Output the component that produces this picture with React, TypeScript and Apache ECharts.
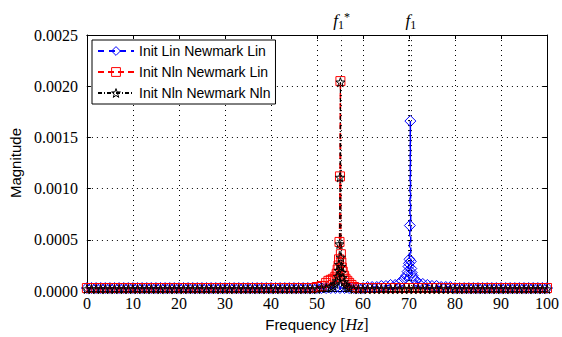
import React, { useEffect, useRef } from "react";
import * as echarts from "echarts";

// [frequency Hz, magnitude]
const blueSpectrum: [number, number][] = [
  [0, 3e-5], [1, 3e-5], [2, 3e-5], [3, 3e-5], [4, 3e-5], [5, 3e-5], [6, 3e-5], [7, 3e-5], [8, 3e-5], [9, 3e-5],
  [10, 3e-5], [11, 3e-5], [12, 3e-5], [13, 3e-5], [14, 3e-5], [15, 3e-5], [16, 3e-5], [17, 3e-5], [18, 3e-5], [19, 3e-5],
  [20, 3e-5], [21, 3e-5], [22, 3e-5], [23, 3e-5], [24, 3e-5], [25, 3e-5], [26, 3e-5], [27, 3e-5], [28, 3e-5], [29, 3e-5],
  [30, 3e-5], [31, 3e-5], [32, 3e-5], [33, 3e-5], [34, 3e-5], [35, 3e-5], [36, 3e-5], [37, 3e-5], [38, 3e-5], [39, 3e-5],
  [40, 3e-5], [41, 3e-5], [42, 3e-5], [43, 3e-5], [44, 3e-5], [45, 3e-5], [46, 3e-5], [47, 3e-5], [48, 3e-5], [49, 3e-5],
  [50, 3e-5], [51, 3e-5], [52, 3e-5], [53, 3e-5], [54, 3e-5], [55, 3e-5], [56, 3e-5], [57, 3e-5], [58, 3e-5], [59, 3e-5],
  [60, 3e-5], [61, 4e-5], [62, 4e-5], [63, 4e-5], [64, 5e-5], [65, 5e-5], [66, 6e-5], [67, 6e-5], [68, 8e-5],
  [68.5, 1.0e-4], [69, 1.2e-4], [69.4, 1.5e-4], [69.7, 1.9e-4], [69.9, 2.4e-4], [70, 2.7e-4], [70.1, 3.1e-4],
  [70.2, 6.4e-4], [70.3, 1.66e-3], [70.4, 2.9e-4], [70.5, 2.2e-4], [70.6, 1.8e-4], [70.8, 1.5e-4], [71.1, 1.2e-4],
  [71.5, 1.0e-4], [72, 8e-5], [73, 7e-5], [74, 6e-5], [75, 5e-5], [76, 5e-5], [77, 4e-5], [78, 4e-5], [79, 4e-5],
  [80, 3e-5], [81, 3e-5], [82, 3e-5], [83, 3e-5], [84, 3e-5], [85, 3e-5], [86, 3e-5], [87, 3e-5], [88, 3e-5], [89, 3e-5],
  [90, 3e-5], [91, 3e-5], [92, 3e-5], [93, 3e-5], [94, 3e-5], [95, 3e-5], [96, 3e-5], [97, 3e-5], [98, 3e-5], [99, 3e-5],
  [100, 3e-5],
];

const redSpectrum: [number, number][] = [
  [0, 3e-5], [1, 3e-5], [2, 3e-5], [3, 3e-5], [4, 3e-5], [5, 3e-5], [6, 3e-5], [7, 3e-5], [8, 3e-5], [9, 3e-5],
  [10, 3e-5], [11, 3e-5], [12, 3e-5], [13, 3e-5], [14, 3e-5], [15, 3e-5], [16, 3e-5], [17, 3e-5], [18, 3e-5], [19, 3e-5],
  [20, 3e-5], [21, 3e-5], [22, 3e-5], [23, 3e-5], [24, 3e-5], [25, 3e-5], [26, 3e-5], [27, 3e-5], [28, 3e-5], [29, 3e-5],
  [30, 3e-5], [31, 3e-5], [32, 3e-5], [33, 3e-5], [34, 3e-5], [35, 3e-5], [36, 3e-5], [37, 3e-5], [38, 3e-5], [39, 3e-5],
  [40, 3e-5], [41, 3e-5], [42, 3e-5], [43, 3e-5], [44, 3e-5], [45, 3e-5], [46, 3e-5], [47, 3e-5], [48, 3e-5], [49, 3e-5],
  [50, 4e-5], [51, 5e-5], [52, 8e-5], [52.5, 1.0e-4], [53, 1.1e-4], [53.5, 1.2e-4], [54, 1.4e-4], [54.3, 1.7e-4],
  [54.5, 2.1e-4], [54.7, 2.5e-4], [54.8, 3.1e-4], [54.9, 4.8e-4], [55, 1.12e-3], [55.1, 2.05e-3], [55.2, 3.6e-4],
  [55.3, 2.8e-4], [55.4, 2.3e-4], [55.6, 1.9e-4], [55.9, 1.5e-4], [56.2, 1.2e-4], [56.6, 1.0e-4], [57, 8e-5],
  [57.5, 6e-5], [58, 4e-5], [59, 3e-5],
  [60, 3e-5], [61, 3e-5], [62, 3e-5], [63, 3e-5], [64, 3e-5], [65, 3e-5], [66, 3e-5], [67, 3e-5], [68, 3e-5], [69, 3e-5],
  [70, 3e-5], [71, 3e-5], [72, 3e-5], [73, 3e-5], [74, 3e-5], [75, 3e-5], [76, 3e-5], [77, 3e-5], [78, 3e-5], [79, 3e-5],
  [80, 3e-5], [81, 3e-5], [82, 3e-5], [83, 3e-5], [84, 3e-5], [85, 3e-5], [86, 3e-5], [87, 3e-5], [88, 3e-5], [89, 3e-5],
  [90, 3e-5], [91, 3e-5], [92, 3e-5], [93, 3e-5], [94, 3e-5], [95, 3e-5], [96, 3e-5], [97, 3e-5], [98, 3e-5], [99, 3e-5],
  [100, 3e-5],
];

const blackSpectrum: [number, number][] = [
  [0, 2e-5], [1, 2e-5], [2, 2e-5], [3, 2e-5], [4, 2e-5], [5, 2e-5], [6, 2e-5], [7, 2e-5], [8, 2e-5], [9, 2e-5],
  [10, 2e-5], [11, 2e-5], [12, 2e-5], [13, 2e-5], [14, 2e-5], [15, 2e-5], [16, 2e-5], [17, 2e-5], [18, 2e-5], [19, 2e-5],
  [20, 2e-5], [21, 2e-5], [22, 2e-5], [23, 2e-5], [24, 2e-5], [25, 2e-5], [26, 2e-5], [27, 2e-5], [28, 2e-5], [29, 2e-5],
  [30, 2e-5], [31, 2e-5], [32, 2e-5], [33, 2e-5], [34, 2e-5], [35, 2e-5], [36, 2e-5], [37, 2e-5], [38, 2e-5], [39, 2e-5],
  [40, 2e-5], [41, 2e-5], [42, 2e-5], [43, 2e-5], [44, 2e-5], [45, 2e-5], [46, 2e-5], [47, 2e-5], [48, 2e-5], [49, 2e-5],
  [50, 2e-5], [51, 3e-5], [52, 3e-5], [53, 4e-5], [53.5, 5e-5], [54, 7e-5], [54.3, 1.0e-4], [54.5, 1.4e-4],
  [54.7, 2.0e-4], [54.8, 2.6e-4], [54.9, 4.6e-4], [55, 1.11e-3], [55.1, 2.04e-3], [55.2, 3.3e-4], [55.3, 2.4e-4],
  [55.4, 1.8e-4], [55.6, 1.3e-4], [55.9, 9e-5], [56.2, 6e-5], [56.6, 4e-5], [57, 3e-5], [58, 2e-5], [59, 2e-5],
  [60, 2e-5], [61, 2e-5], [62, 2e-5], [63, 2e-5], [64, 2e-5], [65, 2e-5], [66, 2e-5], [67, 2e-5], [68, 2e-5], [69, 2e-5],
  [70, 2e-5], [71, 2e-5], [72, 2e-5], [73, 2e-5], [74, 2e-5], [75, 2e-5], [76, 2e-5], [77, 2e-5], [78, 2e-5], [79, 2e-5],
  [80, 2e-5], [81, 2e-5], [82, 2e-5], [83, 2e-5], [84, 2e-5], [85, 2e-5], [86, 2e-5], [87, 2e-5], [88, 2e-5], [89, 2e-5],
  [90, 2e-5], [91, 2e-5], [92, 2e-5], [93, 2e-5], [94, 2e-5], [95, 2e-5], [96, 2e-5], [97, 2e-5], [98, 2e-5], [99, 2e-5],
  [100, 2e-5],
];

const seriesNames = ["Init Lin Newmark Lin", "Init Nln Newmark Lin", "Init Nln Newmark Nln"];
const fStarFreq = 55.35;
const f1Freqs = [69.95, 70.4];

const STAR = "path://M0,-10L2.35,-3.24L9.51,-3.09L3.8,1.24L5.88,8.09L0,4L-5.88,8.09L-3.8,1.24L-9.51,-3.09L-2.35,-3.24Z";

const serif = "Liberation Serif";
const sans = "Liberation Sans";

const fRich = {
  f: { fontFamily: serif, fontStyle: "italic" as const, fontSize: 17, color: "#000" },
  s: { fontFamily: serif, fontSize: 12, color: "#000", padding: [9, 0, 0, 0] },
  p: { fontFamily: serif, fontSize: 12, color: "#000", padding: [0, 0, 7, 0] },
};

export default function App() {
  const ref = useRef<HTMLDivElement>(null);
  useEffect(() => {
    const chart = echarts.init(ref.current!, null, { renderer: "svg" });
    const dotted = { color: "#000", width: 1, type: [1, 4] as number[] };
    const hollow = { color: "rgba(255,255,255,0)", borderWidth: 1 };
    const option: any = {
      animation: false,
      backgroundColor: "#fff",
      grid: { left: 85, right: 13, top: 35, bottom: 45, containLabel: false },
      legend: {
        left: 92,
        top: 40,
        orient: "vertical",
        itemWidth: 36,
        itemHeight: 11,
        itemGap: 7,
        padding: [4, 5, 4, 5],
        borderColor: "#000",
        borderWidth: 1,
        borderRadius: 0,
        backgroundColor: "#fff",
        textStyle: { fontFamily: sans, fontSize: 14, color: "#000" },
        data: [
          { name: seriesNames[0], itemStyle: { ...hollow, borderColor: "#0000ff" } },
          { name: seriesNames[1], itemStyle: { ...hollow, borderColor: "#ff0000" } },
          { name: seriesNames[2], itemStyle: { ...hollow, borderColor: "#000" } },
        ],
      },
      xAxis: [
        {
          type: "value",
          min: 0,
          max: 100,
          interval: 10,
          name: "{a|Frequency }{b|[}{c|Hz}{b|]}",
          nameLocation: "middle",
          nameGap: 24,
          nameTextStyle: {
            rich: {
              a: { fontFamily: sans, fontSize: 15, color: "#000" },
              b: { fontFamily: serif, fontSize: 16, color: "#000" },
              c: { fontFamily: serif, fontStyle: "italic", fontSize: 16, color: "#000" },
            },
          },
          axisLine: { show: true, onZero: false, lineStyle: { color: "#000", width: 1 } },
          axisTick: { show: true, inside: true, length: 4, lineStyle: { color: "#000" } },
          axisLabel: { fontFamily: serif, fontSize: 16, color: "#000", margin: 4 },
          splitLine: { show: true, lineStyle: dotted },
        },
        {
          type: "value",
          position: "top",
          min: 0,
          max: 100,
          interval: 10,
          axisLine: { show: true, onZero: false, lineStyle: { color: "#000", width: 1 } },
          axisTick: { show: true, inside: true, length: 4, lineStyle: { color: "#000" } },
          axisLabel: { show: false },
          splitLine: { show: false },
        },
      ],
      yAxis: [
        {
          type: "value",
          min: 0,
          max: 0.0025,
          interval: 0.0005,
          name: "Magnitude",
          nameLocation: "middle",
          nameGap: 58,
          nameTextStyle: { fontFamily: sans, fontSize: 15, color: "#000" },
          axisLine: { show: true, onZero: false, lineStyle: { color: "#000", width: 1 } },
          axisTick: { show: true, inside: true, length: 4, lineStyle: { color: "#000" } },
          axisLabel: {
            fontFamily: serif,
            fontSize: 16,
            color: "#000",
            margin: 9,
            formatter: (v: number) => v.toFixed(4),
          },
          splitLine: { show: true, lineStyle: dotted },
        },
        {
          type: "value",
          position: "right",
          min: 0,
          max: 0.0025,
          interval: 0.0005,
          axisLine: { show: true, onZero: false, lineStyle: { color: "#000", width: 1 } },
          axisTick: { show: true, inside: true, length: 4, lineStyle: { color: "#000" } },
          axisLabel: { show: false },
          splitLine: { show: false },
        },
      ],
      series: [
        {
          name: seriesNames[0],
          type: "line",
          data: blueSpectrum,
          symbol: "diamond",
          symbolSize: 11,
          showAllSymbol: true,
          color: "#0000ff",
          lineStyle: { color: "#0000ff", width: 1.5, type: [6, 5] },
          itemStyle: { ...hollow, borderColor: "#0000ff" },
          markLine: {
            silent: true,
            symbol: ["none", "none"],
            lineStyle: dotted,
            label: { show: false },
            data: [
              {
                xAxis: fStarFreq,
                label: { show: true, position: "end", distance: 4, formatter: "{f|f}{s|1}{p|*}", rich: fRich },
              },
              { xAxis: f1Freqs[0] },
              {
                xAxis: f1Freqs[1],
                label: { show: true, position: "end", distance: 4, formatter: "{f|f}{s|1}", rich: fRich },
              },
            ],
          },
        },
        {
          name: seriesNames[1],
          type: "line",
          data: redSpectrum,
          symbol: "rect",
          symbolSize: 9,
          showAllSymbol: true,
          color: "#ff0000",
          lineStyle: { color: "#ff0000", width: 1.5, type: [6, 4] },
          itemStyle: { ...hollow, borderColor: "#ff0000" },
        },
        {
          name: seriesNames[2],
          type: "line",
          data: blackSpectrum,
          symbol: STAR,
          symbolSize: 9,
          showAllSymbol: true,
          color: "#000000",
          lineStyle: { color: "#000", width: 1, type: [4, 2, 1, 2] },
          itemStyle: { ...hollow, borderColor: "#000" },
        },
      ],
    };
    chart.setOption(option);
    return () => chart.dispose();
  }, []);
  return (
    <div
      ref={ref}
      style={{ position: "fixed", left: 0, top: 0, width: 562, height: 337, background: "#fff" }}
    />
  );
}
